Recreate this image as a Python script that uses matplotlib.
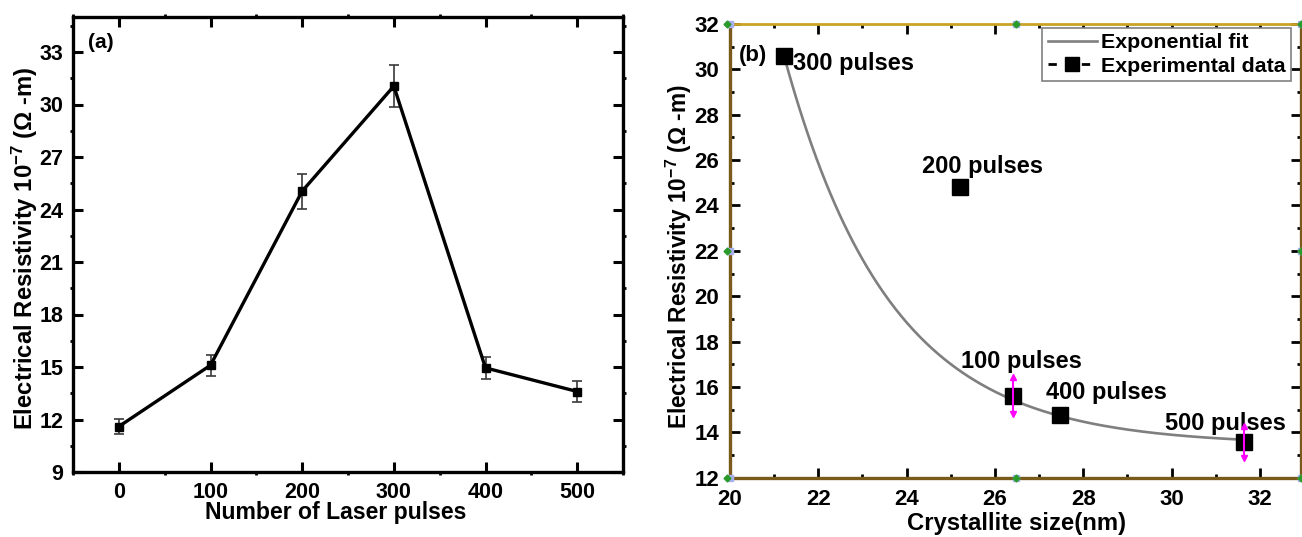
import numpy as np
import matplotlib
matplotlib.use("Agg")
import matplotlib.pyplot as plt
from matplotlib.lines import Line2D
from matplotlib.ticker import MultipleLocator

plt.rcParams['font.family'] = ['Liberation Sans', 'DejaVu Sans']
plt.rcParams['font.weight'] = 'bold'
plt.rcParams['mathtext.fontset'] = 'custom'
plt.rcParams['mathtext.rm'] = 'Liberation Sans'
plt.rcParams['mathtext.it'] = 'Liberation Sans:italic'
plt.rcParams['mathtext.bf'] = 'Liberation Sans:bold'

# ---------------- data: panel (a) ----------------
pulses = [0, 100, 200, 300, 400, 500]
resistivity_a = [11.6, 15.1, 25.05, 31.05, 14.95, 13.6]
resistivity_err = [0.45, 0.6, 1.0, 1.2, 0.65, 0.6]
xticks_a = [0, 100, 200, 300, 400, 500]
yticks_a = [9, 12, 15, 18, 21, 24, 27, 30, 33]

# ---------------- data: panel (b) ----------------
crystallite = [21.23, 25.2, 26.41, 27.47, 31.63]
resistivity_b = [30.57, 24.83, 15.62, 14.76, 13.58]
point_labels = ["300 pulses", "200 pulses", "100 pulses", "400 pulses", "500 pulses"]
# magenta error bars on two points (index, error)
err_idx = [2, 4]
err_vals = [0.8, 0.72]
# exponential fit parameters y = y0 + A*exp(-(x - x0)/t)
fit_y0 = 13.45
fit_A = 17.1
fit_t = 2.4
fit_x0 = 21.23
xticks_b = [20, 22, 24, 26, 28, 30, 32]
yticks_b = [12, 14, 16, 18, 20, 22, 24, 26, 28, 30, 32]

W, H = 1302, 537
fig = plt.figure(figsize=(W / 100, H / 100), dpi=100)

# ===== panel (a) =====
axa = fig.add_axes([73 / W, 1 - 472 / H, 550 / W, 455 / H])
axa.errorbar(pulses, resistivity_a, yerr=resistivity_err, fmt='none',
             ecolor='#3a3a3a', elinewidth=1.2, capsize=3.5, capthick=1.2, zorder=2)
axa.plot(pulses, resistivity_a, color='black', lw=2.4, marker='s', ms=6,
         mfc='black', mec='black', zorder=3)
axa.set_xlim(-50, 550)
axa.set_ylim(9, 35)
axa.set_xticks(xticks_a)
axa.set_yticks(yticks_a)
axa.xaxis.set_minor_locator(MultipleLocator(50))
axa.yaxis.set_minor_locator(MultipleLocator(1.5))
axa.tick_params(which='major', direction='in', length=7, width=2.2,
                top=True, right=True, labelsize=15.5, pad=7)
axa.tick_params(which='minor', direction='out', length=2.5, width=2,
                top=True, right=True)
for s in axa.spines.values():
    s.set_linewidth(2.4)
for lab in axa.get_xticklabels() + axa.get_yticklabels():
    lab.set_fontweight('bold')
axa.set_xlabel("Number of Laser pulses", fontsize=16.6, fontweight='bold')
axa.set_ylabel(r"Electrical Resistivity 10$^{-7}$ ($\Omega$ -m)", fontsize=17.2,
               fontweight='bold')
axa.xaxis.set_label_coords(0.477, -0.09)
axa.xaxis.label.set_va('center')
axa.yaxis.set_label_coords(-0.087, 0.492)
axa.yaxis.label.set_va('center')
axa.text(0.027, 0.943, "(a)", transform=axa.transAxes, fontsize=15,
         fontweight='bold', va='center', ha='left')

# ===== panel (b) =====
axb = fig.add_axes([730 / W, 1 - 477.7 / H, 571 / W, 453.7 / H])
xfit = np.linspace(min(crystallite), max(crystallite), 300)
yfit = fit_y0 + fit_A * np.exp(-(xfit - fit_x0) / fit_t)
axb.plot(xfit, yfit, color='#7f7f7f', lw=1.9, zorder=2, label="Exponential fit")
axb.plot(crystallite, resistivity_b, ls='none', marker='s', ms=12,
         mfc='black', mec='black', zorder=4)
ex = [crystallite[i] for i in err_idx]
ey = [resistivity_b[i] for i in err_idx]
axb.errorbar(ex, ey, yerr=err_vals, fmt='none', ecolor='#ff00ff',
             elinewidth=1.5, capsize=0, zorder=5)
axb.plot(ex, np.array(ey) + np.array(err_vals), ls='none', marker='^', ms=5,
         color='#ff00ff', zorder=5)
axb.plot(ex, np.array(ey) - np.array(err_vals), ls='none', marker='v', ms=5,
         color='#ff00ff', zorder=5)

label_off = {
    "300 pulses": (0.19, -0.3, 'left'),
    "200 pulses": (0.52, 0.9, 'center'),
    "100 pulses": (-1.18, 1.5, 'left'),
    "400 pulses": (-0.32, 1.0, 'left'),
    "500 pulses": (-1.77, 0.82, 'left'),
}
for x, y, lab in zip(crystallite, resistivity_b, point_labels):
    dx, dy, ha = label_off[lab]
    axb.text(x + dx, y + dy, lab, fontsize=17, fontweight='bold',
             ha=ha, va='center', zorder=3)

axb.text(0.016, 0.93, "(b)", transform=axb.transAxes, fontsize=16,
         fontweight='bold', va='center', ha='left')

axb.set_xlim(20, 32.93)
axb.set_ylim(12, 32)
axb.set_xticks(xticks_b)
axb.set_yticks(yticks_b)
axb.xaxis.set_minor_locator(MultipleLocator(1))
axb.yaxis.set_minor_locator(MultipleLocator(1))
axb.tick_params(which='major', direction='in', length=7, width=2,
                top=True, right=True, labelsize=16, pad=8)
axb.tick_params(which='minor', direction='in', length=3, width=2,
                top=True, right=True)
for lab in axb.get_xticklabels() + axb.get_yticklabels():
    lab.set_fontweight('bold')
for name, s in axb.spines.items():
    s.set_linewidth(2.4)
    s.set_color('#7a5a1a')
axb.spines['top'].set_color('#c9a227')
axb.spines['top'].set_linewidth(2.0)

axb.set_xlabel("Crystallite size(nm)", fontsize=17.2, fontweight='bold')
axb.set_ylabel(r"Electrical Resistivity 10$^{-7}$ ($\Omega$ -m)", fontsize=16.3,
               fontweight='bold')
axb.xaxis.set_label_coords(0.5026, -0.102)
axb.xaxis.label.set_va('center')
axb.yaxis.set_label_coords(-0.0893, 0.4864)
axb.yaxis.label.set_va('center')

# Origin selection handles (decorative)
hx = [0, 0.5, 1, 0, 1, 0, 0.5, 1]
hy = [1, 1, 1, 0.5, 0.5, 0, 0, 0]
axb.plot(hx, hy, transform=axb.transAxes, ls='none', marker='s', ms=4,
         color='#a8b0f0', clip_on=False, zorder=6)
axb.plot([v - 0.006 if v == 0 else v for v in hx], hy, transform=axb.transAxes,
         ls='none', marker='D', ms=3.5, color='#2a9a2a', clip_on=False, zorder=6)

handles = [Line2D([], [], color='#7f7f7f', lw=1.9),
           Line2D([], [], color='black', lw=2, ls=(0, (3, 3)), marker='s', ms=10)]
leg = axb.legend(handles, ["Exponential fit", "Experimental data"],
                 loc='upper right', bbox_to_anchor=(0.9825, 0.991),
                 prop={'weight': 'bold', 'size': 15.4}, frameon=True,
                 fancybox=False, edgecolor='#808080', framealpha=1,
                 borderpad=0.25, labelspacing=0.2, handlelength=2.3,
                 handletextpad=0.2, borderaxespad=0)
leg.get_frame().set_linewidth(1.2)

fig.savefig("out.png", dpi=100)
